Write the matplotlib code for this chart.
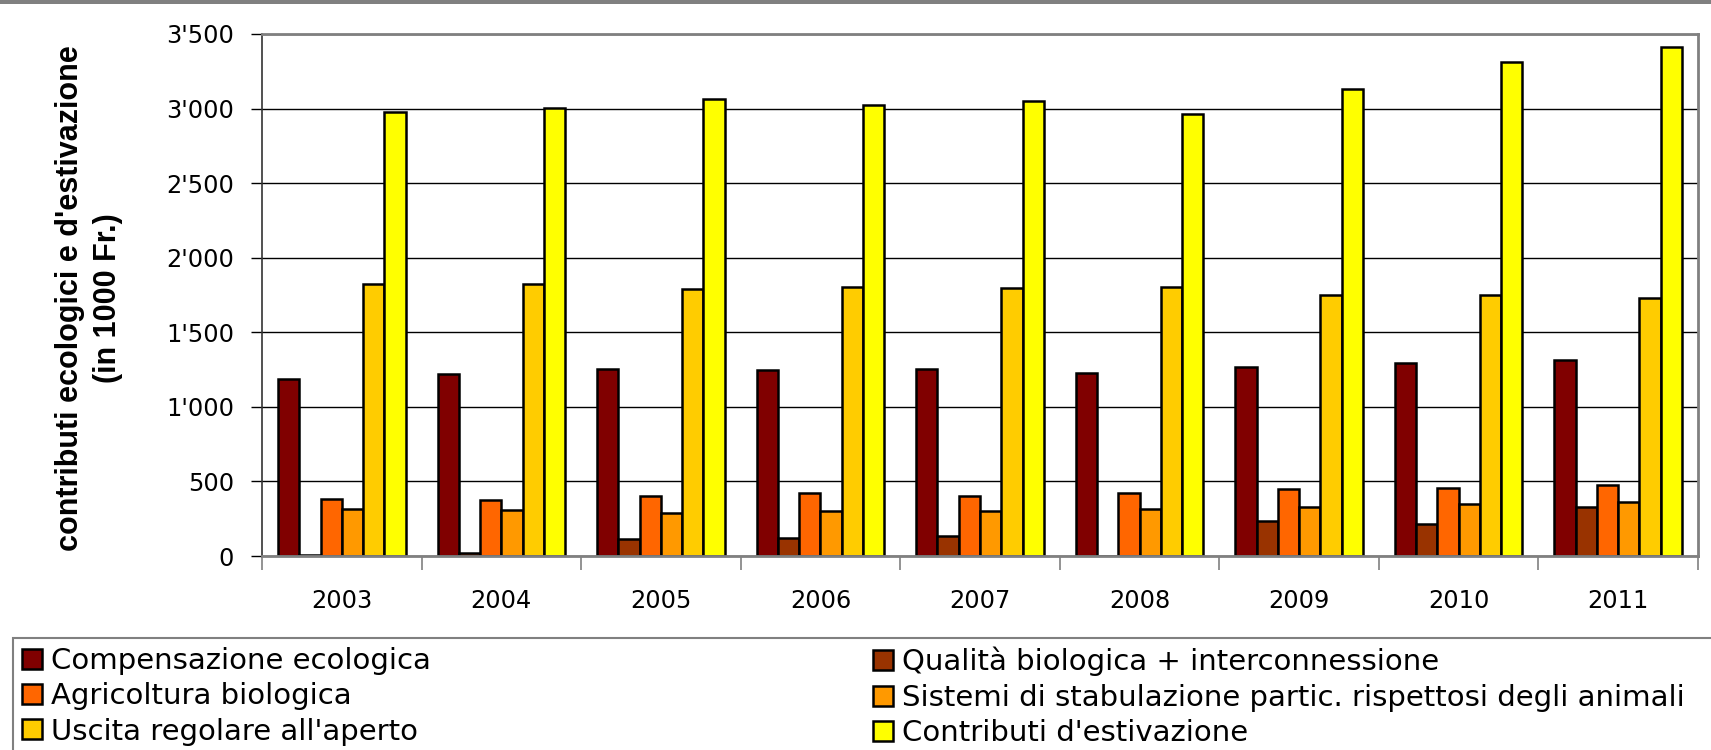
import matplotlib
matplotlib.use("Agg")
import matplotlib.pyplot as plt
from matplotlib.patches import Patch, Rectangle
from matplotlib.ticker import FuncFormatter, FixedLocator
import numpy as np

# ---- data (in 1000 Fr.) ----
years = ["2003", "2004", "2005", "2006", "2007", "2008", "2009", "2010", "2011"]

compensazione = [1187, 1218, 1253, 1244, 1253, 1227, 1269, 1295, 1311]
qualita = [5, 22, 116, 124, 133, 0, 233, 216, 327]
agricoltura = [380, 373, 400, 424, 400, 420, 449, 458, 478]
stabulazione = [313, 307, 287, 302, 304, 318, 330, 349, 360]
uscita = [1827, 1824, 1787, 1802, 1798, 1804, 1749, 1753, 1727]
estivazione = [2978, 3002, 3062, 3027, 3053, 2962, 3133, 3311, 3415]

series_labels = [
    "Compensazione ecologica",
    "Qualità biologica + interconnessione",
    "Agricoltura biologica",
    "Sistemi di stabulazione partic. rispettosi degli animali",
    "Uscita regolare all'aperto",
    "Contributi d'estivazione",
]
series_values = [compensazione, qualita, agricoltura, stabulazione, uscita, estivazione]
series_colors = ["#800000", "#993300", "#FF6600", "#FF9900", "#FFCC00", "#FFFF00"]

W, H, DPI = 1711, 750, 100
fig = plt.figure(figsize=(W / DPI, H / DPI), dpi=DPI)
fig.patch.set_facecolor("white")

# axes placement in pixels
ax_l, ax_r, ax_t, ax_b = 262, 1698, 34, 556
ax = fig.add_axes([ax_l / W, 1 - ax_b / H, (ax_r - ax_l) / W, (ax_b - ax_t) / H])

n_series = len(series_values)
bar_w = 1.0 / (n_series + 1.5)
x = np.arange(len(years))
for i, (vals, col) in enumerate(zip(series_values, series_colors)):
    offs = (i - (n_series - 1) / 2) * bar_w
    ax.bar(x + offs, vals, width=bar_w, color=col, edgecolor="black",
           linewidth=1.8, zorder=3)

ax.set_xlim(-0.5, len(years) - 0.5)
ax.set_ylim(0, 3500)

# y axis
ax.yaxis.set_major_locator(FixedLocator(np.arange(0, 3501, 500)))
ax.yaxis.set_major_formatter(FuncFormatter(lambda v, p: f"{int(v):,}".replace(",", "'")))
ax.tick_params(axis="y", direction="out", length=8, width=1, color="black",
               labelsize=17.3, pad=12)
ax.grid(axis="y", color="black", linewidth=1, zorder=1)

# x axis: category labels centred, ticks at boundaries
ax.set_xticks(x)
ax.set_xticklabels(years)
ax.set_xticks(np.arange(-0.5, len(years)), minor=True)
ax.tick_params(axis="x", which="major", length=0, labelsize=17.3, pad=24)
ax.tick_params(axis="x", which="minor", direction="out", length=10, width=1.2,
               color="#808080")

for side in ("top", "right", "bottom"):
    ax.spines[side].set_color("#808080")
    ax.spines[side].set_linewidth(2)
ax.spines["left"].set_color("#333333")
ax.spines["left"].set_linewidth(1.2)
ax.spines["bottom"].set_zorder(4)

# y axis title
fig.text(89 / W, 1 - 298 / H,
         "contributi ecologici e d'estivazione\n(in 1000 Fr.)",
         rotation=90, ha="center", va="center", multialignment="center",
         fontsize=22, fontweight="bold", family="Liberation Sans",
         linespacing=1.35)

# grey band at the top edge
fig.add_artist(Rectangle((0, 1 - 4 / H), 1, 4 / H, transform=fig.transFigure,
                         facecolor="#808080", edgecolor="none"))

# legend frame
fig.add_artist(Rectangle((13 / W, -0.05), 1.1, (750 - 638) / H + 0.05,
                         transform=fig.transFigure, facecolor="none",
                         edgecolor="#808080", linewidth=1.5))

handles = [Patch(facecolor=c, edgecolor="black", linewidth=1.8) for c in series_colors]
cols = [[0, 2, 4], [1, 3, 5]]
anchors_x = [22, 873]
for idx, ax_x in zip(cols, anchors_x):
    fig.legend([handles[k] for k in idx], [series_labels[k] for k in idx],
               loc="upper left", bbox_to_anchor=(ax_x / W, 1 - 647 / H),
               bbox_transform=fig.transFigure, frameon=False, fontsize=21,
               handlelength=0.68, handleheight=0.68, handletextpad=0.3,
               labelspacing=0.25, borderpad=0, borderaxespad=0)

fig.savefig("out.png", dpi=DPI, facecolor="white")
